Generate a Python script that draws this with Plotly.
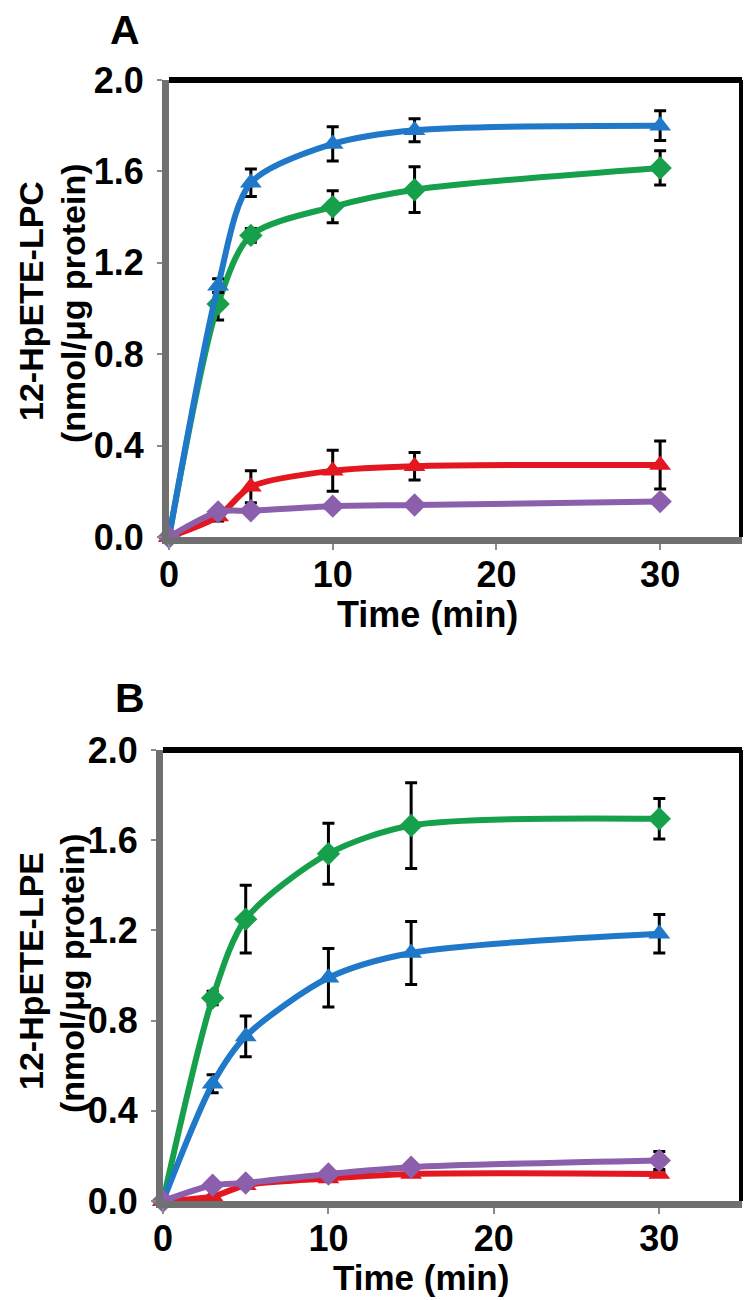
import plotly.graph_objects as go

W, H = 751, 1300
OFF = 8  # page body margin offset

time_min = [0, 3, 5, 10, 15, 30]

# Panel A: 12-HpETE-LPC
a_blue = [0, 1.10, 1.55, 1.72, 1.78, 1.80]
a_blue_err = [0, 0.03, 0.06, 0.075, 0.05, 0.065]
a_green = [0, 1.02, 1.32, 1.445, 1.52, 1.615]
a_green_err = [0, 0.07, 0.03, 0.07, 0.10, 0.075]
a_red = [0, 0.09, 0.22, 0.29, 0.31, 0.315]
a_red_err = [0, 0.02, 0.07, 0.09, 0.06, 0.105]
a_purple = [0, 0.11, 0.115, 0.135, 0.14, 0.155]
a_purple_err = [0, 0.01, 0.01, 0.01, 0.01, 0.015]

# Panel B: 12-HpETE-LPE
b_green = [0, 0.90, 1.25, 1.54, 1.665, 1.695]
b_green_err = [0, 0.03, 0.15, 0.135, 0.19, 0.09]
b_blue = [0, 0.52, 0.73, 0.99, 1.10, 1.185]
b_blue_err = [0, 0.04, 0.09, 0.13, 0.14, 0.085]
b_red = [0, 0.02, 0.07, 0.10, 0.12, 0.12]
b_red_err = [0, 0.0, 0.01, 0.01, 0.01, 0.01]
b_purple = [0, 0.07, 0.08, 0.12, 0.15, 0.18]
b_purple_err = [0, 0.01, 0.01, 0.01, 0.01, 0.04]

x_ticks = [0, 10, 20, 30]
y_ticks = [0.0, 0.4, 0.8, 1.2, 1.6, 2.0]
y_ticktext = ["0.0", "0.4", "0.8", "1.2", "1.6", "2.0"]

ytitle_a = ["12-HpETE-LPC", "(nmol/μg protein)"]
ytitle_b = ["12-HpETE-LPE", "(nmol/μg protein)"]
xtitle = "Time (min)"

BLUE = "#1f78c8"
GREEN = "#17a04c"
RED = "#e3171f"
PURPLE = "#8c5fad"
AXGREY = "#707070"
FONT = "Liberation Sans, Arial, sans-serif"

fig = go.Figure()


def add_series(x, y, err, color, symbol, size, xa, ya):
    fig.add_trace(go.Scatter(
        x=x, y=y, mode="lines+markers",
        line=dict(color=color, width=6, shape="spline", smoothing=0.8),
        marker=dict(symbol=symbol, size=size, color=color),
        error_y=dict(type="data", array=err, color="black", thickness=3, width=6),
        xaxis=xa, yaxis=ya, cliponaxis=False, showlegend=False,
    ))


add_series(time_min, a_green, a_green_err, GREEN, "diamond", 18, "x", "y")
add_series(time_min, a_blue, a_blue_err, BLUE, "triangle-up", 19, "x", "y")
add_series(time_min, a_red, a_red_err, RED, "triangle-up", 19, "x", "y")
add_series(time_min, a_purple, a_purple_err, PURPLE, "diamond", 18, "x", "y")

add_series(time_min, b_green, b_green_err, GREEN, "diamond", 18, "x2", "y2")
add_series(time_min, b_blue, b_blue_err, BLUE, "triangle-up", 19, "x2", "y2")
add_series(time_min, b_red, b_red_err, RED, "triangle-up", 19, "x2", "y2")
add_series(time_min, b_purple, b_purple_err, PURPLE, "diamond", 18, "x2", "y2")


def px_x(p):
    return (p - OFF) / W


def px_y(p):
    return 1 - (p - OFF) / H


tickfont = dict(family=FONT, size=36, color="black", weight="bold")
xcommon = dict(range=[0, 35], tickvals=x_ticks, showline=True, linecolor=AXGREY,
               linewidth=7, ticks="outside", ticklen=6, tickwidth=2,
               tickcolor="#8a8a8a", showgrid=False, zeroline=False,
               tickfont=tickfont, automargin=False, ticklabelstandoff=-6)
ycommon = dict(range=[0, 2.0], tickvals=y_ticks, ticktext=y_ticktext,
               showline=True, linecolor=AXGREY, linewidth=7, ticks="outside",
               ticklen=5, tickwidth=2, tickcolor="#8a8a8a", showgrid=False,
               zeroline=False, tickfont=tickfont, automargin=False,
               ticklabelstandoff=6)

fig.update_layout(
    width=W, height=H,
    margin=dict(l=0, r=0, t=0, b=0, pad=0, autoexpand=False),
    paper_bgcolor="white", plot_bgcolor="white",
    xaxis=dict(domain=[px_x(169), px_x(742)], anchor="y", **xcommon),
    yaxis=dict(domain=[px_y(537), px_y(80)], anchor="x", **ycommon),
    xaxis2=dict(domain=[px_x(163), px_x(742)], anchor="y2", **xcommon),
    yaxis2=dict(domain=[px_y(1201), px_y(750)], anchor="x2", **ycommon),
)

# top and right frame lines (black)
for xr, yr in (("x domain", "y domain"), ("x2 domain", "y2 domain")):
    fig.add_shape(type="line", xref=xr, yref=yr, x0=0, x1=1, y0=1, y1=1,
                  line=dict(color="black", width=6))
    fig.add_shape(type="line", xref=xr, yref=yr, x0=1, x1=1, y0=0, y1=1,
                  line=dict(color="black", width=6))

bold = dict(family=FONT, color="black", weight="bold")
ann = [
    dict(text="A", x=px_x(125), y=px_y(30), font=dict(size=41, **bold)),
    dict(text="B", x=px_x(130), y=px_y(698), font=dict(size=41, **bold)),
    dict(text=ytitle_a[0], x=px_x(31), y=px_y(301), textangle=-90,
         font=dict(size=34, **bold)),
    dict(text=ytitle_a[1], x=px_x(73), y=px_y(303), textangle=-90,
         font=dict(size=34, **bold)),
    dict(text=ytitle_b[0], x=px_x(31), y=px_y(971), textangle=-90,
         font=dict(size=34, **bold)),
    dict(text=ytitle_b[1], x=px_x(72), y=px_y(973), textangle=-90,
         font=dict(size=34, **bold)),
    dict(text=xtitle, x=px_x(427), y=px_y(614), font=dict(size=36, **bold)),
    dict(text=xtitle, x=px_x(421), y=px_y(1277), font=dict(size=35, **bold)),
]
for a in ann:
    fig.add_annotation(xref="paper", yref="paper", showarrow=False,
                       xanchor="center", yanchor="middle", **a)

fig.write_html("out.html")
